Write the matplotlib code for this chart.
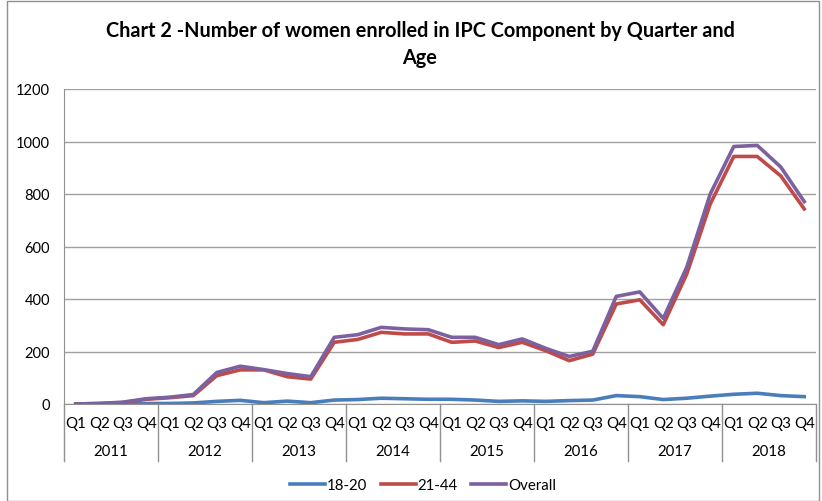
import matplotlib.pyplot as plt
import numpy as np
from matplotlib.patches import Rectangle

plt.rcParams['font.family'] = ['Lato', 'DejaVu Sans']

years = ['2011', '2012', '2013', '2014', '2015', '2016', '2017', '2018']
quarters = ['Q1', 'Q2', 'Q3', 'Q4']

age_18_20 = [0, 0, 1, 2, 2, 4, 10, 14, 5, 11, 5, 15, 17, 22, 20, 18,
             18, 15, 10, 12, 10, 13, 15, 32, 28, 17, 22, 30, 37, 41, 32, 28]
age_21_44 = [0, 2, 5, 18, 24, 32, 108, 130, 130, 104, 95, 235, 246, 273, 267, 267,
             235, 240, 215, 235, 203, 165, 190, 381, 397, 302, 495, 762, 943, 943, 869, 743]
overall = [0, 2, 7, 20, 26, 36, 120, 144, 131, 116, 104, 254, 264, 292, 286, 283,
           254, 254, 226, 248, 212, 181, 201, 410, 427, 326, 521, 800, 981, 985, 903, 771]

fig = plt.figure(figsize=(8.22, 5.02), dpi=100)
ax = fig.add_axes([64 / 822, 1 - 405 / 502, 752 / 822, 315 / 502])

x = np.arange(len(overall))
ax.plot(x, age_18_20, color='#4A7EBB', lw=2.6, label='18-20')
ax.plot(x, age_21_44, color='#BE4B48', lw=2.6, label='21-44')
ax.plot(x, overall, color='#7D60A0', lw=2.6, label='Overall')

ax.set_xlim(-0.5, len(overall) - 0.5)
ax.set_ylim(0, 1200)
ax.set_yticks(range(0, 1201, 200))
ax.yaxis.grid(True, color='#A0A0A0', lw=1)
ax.set_axisbelow(True)
for s in ['top', 'right']:
    ax.spines[s].set_visible(False)
for s in ['left', 'bottom']:
    ax.spines[s].set_color('#909090')
ax.tick_params(axis='y', length=0, labelsize=10.5, pad=10)
ax.set_xticks(x)
ax.set_xticklabels(quarters * len(years), fontsize=10.8)
ax.tick_params(axis='x', length=0, pad=9)

# year labels and separators below the axis
trans = ax.get_xaxis_transform()
for k, yr in enumerate(years):
    ax.text(4 * k + 1.5, -0.148, yr, transform=trans, ha='center', va='center', fontsize=10.8)
for k in range(len(years) + 1):
    ax.plot([4 * k - 0.5] * 2, [0, -0.18], transform=trans, color='#909090', lw=1, clip_on=False)

fig.suptitle('Chart 2 -Number of women enrolled in IPC Component by Quarter and\nAge',
             x=0.511, y=0.958, fontsize=14.3, fontweight='bold', linespacing=1.45)

fig.legend(loc='center', bbox_to_anchor=(0.515, 1 - 486 / 502), ncol=3, frameon=False,
           fontsize=10.8, handlelength=2.3, columnspacing=0.9, handletextpad=0.15)

fig.patches.append(Rectangle((7 / 822, 0.5 / 502), 812 / 822, 500 / 502, transform=fig.transFigure,
                             fill=False, edgecolor='#909090', lw=1))

fig.savefig('out.png', dpi=100)
